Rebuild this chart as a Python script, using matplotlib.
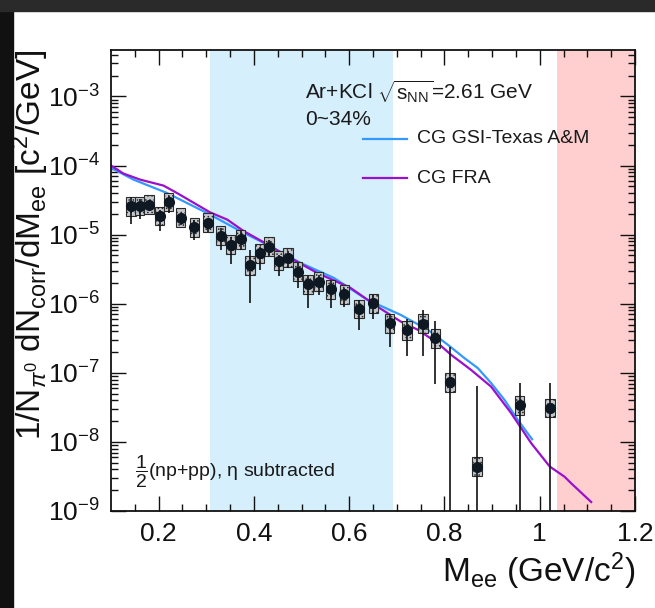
import numpy as np
import matplotlib
matplotlib.use('Agg')
from matplotlib import pyplot as plt
from matplotlib.patches import Rectangle

plt.rcParams['font.family'] = ['Liberation Sans', 'DejaVu Sans']
plt.rcParams['mathtext.fontset'] = 'custom'
plt.rcParams['mathtext.rm'] = 'Liberation Sans'
plt.rcParams['mathtext.it'] = 'Liberation Sans:italic'
plt.rcParams['mathtext.bf'] = 'Liberation Sans:bold'
plt.rcParams['hatch.color'] = '#4a4a4a'
plt.rcParams['hatch.linewidth'] = 0.6

# data points (Ar+KCl, pi0 normalised, NN reference subtracted)
m_ee = [0.142, 0.160, 0.180, 0.202, 0.221, 0.246, 0.275, 0.304, 0.330, 0.351,
        0.372, 0.392, 0.412, 0.432, 0.452, 0.472, 0.492, 0.513, 0.536, 0.561,
        0.590, 0.621, 0.651, 0.685, 0.721, 0.755, 0.781, 0.812, 0.868, 0.958, 1.022]
yield_ee = [2.56e-5, 2.6e-5, 2.7e-5, 1.86e-5, 2.97e-5, 1.75e-5, 1.28e-5, 1.49e-5, 9.6e-6, 7.1e-6,
            8.6e-6, 3.6e-6, 5.4e-6, 6.7e-6, 4.2e-6, 4.6e-6, 2.9e-6, 1.91e-6, 2.08e-6, 1.63e-6,
            1.36e-6, 8.4e-7, 1.02e-6, 5.2e-7, 4.1e-7, 5.1e-7, 3.16e-7, 7.3e-8, 4.4e-9, 3.4e-8, 3.1e-8]
stat_hi = [3.48e-5, 3.33e-5, 3.04e-5, 2.3e-5, 3.59e-5, 2.06e-5, 1.65e-5, 1.74e-5, 1.25e-5, 9.3e-6,
           1.12e-5, 6.07e-6, 6.64e-6, 8.5e-6, 5.13e-6, 5.73e-6, 3.89e-6, 2.49e-6, 2.63e-6, 2.1e-6,
           1.69e-6, 1.14e-6, 1.35e-6, 7.0e-7, 6.07e-7, 8.2e-7, 5.53e-7, 2.38e-7, 6.5e-8, 7.1e-8, 7.1e-8]
stat_lo = [1.43e-5, 1.69e-5, 2.3e-5, 1.12e-5, 2.06e-5, 1.40e-5, 8.5e-6, 1.08e-5, 6.07e-6, 3.8e-6,
           6.07e-6, 1.02e-6, 3.04e-6, 4.85e-6, 2.49e-6, 3.29e-6, 1.69e-6, 8.7e-7, 1.35e-6, 8.7e-7,
           9.1e-7, 4.2e-7, 6.0e-7, 2.4e-7, 1.76e-7, 1.76e-7, 6.93e-8, 1e-10, 1e-10, 1e-10, 1e-10]
sys_factor = 1.37

# coarse-graining model curves
gsi_x = [0.100, 0.147, 0.217, 0.308, 0.372, 0.428, 0.498, 0.568, 0.638, 0.708,
         0.765, 0.807, 0.842, 0.870, 0.898, 0.926, 0.954, 0.984]
gsi_y = [9.27e-5, 6.26e-5, 4.02e-5, 1.95e-5, 1.12e-5, 7.16e-6, 3.89e-6, 2.36e-6, 1.14e-6, 6.9e-7,
         4.2e-7, 2.55e-7, 1.63e-7, 1.17e-7, 7.1e-8, 4.06e-8, 2.08e-8, 1.09e-8]
fra_x = [0.100, 0.126, 0.161, 0.210, 0.238, 0.308, 0.344, 0.379, 0.421, 0.470,
         0.533, 0.603, 0.659, 0.708, 0.744, 0.786, 0.814, 0.856, 0.898, 0.940,
         0.982, 1.021, 1.052, 1.066, 1.108]
fra_y = [1.0e-4, 7.66e-5, 6.26e-5, 5.13e-5, 4.02e-5, 2.10e-5, 1.65e-5, 1.12e-5, 7.73e-6, 4.85e-6,
         2.79e-6, 1.69e-6, 9.1e-7, 5.53e-7, 4.2e-7, 2.69e-7, 1.82e-7, 1.10e-7, 6.3e-8, 2.61e-8,
         9.6e-9, 4.4e-9, 3.14e-9, 2.52e-9, 1.35e-9]

low_band = (0.307, 0.692)
high_band = (1.036, 1.2)

x = np.array(m_ee)
y = np.array(yield_ee)

fig = plt.figure(figsize=(6.55, 6.08), dpi=100)
fig.patches.append(Rectangle((0, 0), 13 / 655, 1, transform=fig.transFigure,
                             color='#111111', zorder=-10))
fig.patches.append(Rectangle((0, 1 - 11 / 608), 1, 11 / 608, transform=fig.transFigure,
                             color='#2a2a2a', zorder=-10))
ax = fig.add_axes([111 / 655, 1 - 511 / 608, 524 / 655, 461 / 608])

ax.axvspan(*low_band, color='#d5effc', lw=0, zorder=0)
ax.axvspan(*high_band, color='#ffcfcf', lw=0, zorder=0)

ax.plot(gsi_x, gsi_y, color='#3399ff', lw=1.6, zorder=2)
ax.plot(fra_x, fra_y, color='#9a10cc', lw=1.6, zorder=2)

ax.bar(x, y * sys_factor - y / sys_factor, bottom=y / sys_factor, width=0.02,
       facecolor='#c4c8cc', edgecolor='#2a2a2a', hatch='....', lw=0.8, zorder=3)
ax.vlines(x, stat_lo, stat_hi, color='#111111', lw=1.2, zorder=4)
ax.plot(x, y, 'o', color='#0d1822', ms=7, zorder=5)

ax.set_yscale('log')
ax.set_xlim(0.1, 1.2)
ax.set_ylim(1e-9, 4.7e-3)
ax.set_xticks([0.2, 0.4, 0.6, 0.8, 1.0, 1.2])
ax.set_xticklabels(['0.2', '0.4', '0.6', '0.8', '1', '1.2'])
ax.set_xticks(np.arange(0.15, 1.2, 0.05), minor=True)
ax.set_yticks([10.0 ** k for k in range(-9, -2)])
ax.set_yticklabels([r'$10^{%d}$' % k for k in range(-9, -2)])
ax.tick_params(which='both', direction='in', top=True, right=True, colors='#111111',
               labelcolor='#111111')
ax.tick_params(which='major', length=11, width=1.0, labelsize=19, pad=8)
ax.tick_params(which='minor', length=5, width=1.0)
for s in ax.spines.values():
    s.set_linewidth(1.3)
    s.set_color('#111111')

ax.set_xlabel(r'M$_{\rm ee}$ (GeV/c$^2$)', fontsize=24, loc='right', color='#111111')
ax.xaxis.set_label_coords(1.0, -0.085)
ax.set_ylabel(r'1/N$_{\pi^0}$ dN$_{\rm corr}$/dM$_{\rm ee}$ [c$^2$/GeV]', fontsize=24,
              loc='top', color='#111111')
ax.yaxis.set_label_coords(-0.115, 1.0)

ax.text(0.370, 0.909, r'Ar+KCl $\sqrt{\mathrm{s}_{\rm NN}}$=2.61 GeV', transform=ax.transAxes,
        fontsize=15, va='center', color='#1a1a1a')
ax.text(0.370, 0.850, '0~34%', transform=ax.transAxes, fontsize=15, va='center',
        color='#1a1a1a')
ax.plot([0.481, 0.565], [0.807, 0.807], transform=ax.transAxes, color='#3399ff', lw=1.6)
ax.text(0.584, 0.807, 'CG GSI-Texas A&M', transform=ax.transAxes, fontsize=14,
        va='center', color='#1a1a1a')
ax.plot([0.481, 0.565], [0.722, 0.722], transform=ax.transAxes, color='#9a10cc', lw=1.6)
ax.text(0.584, 0.722, 'CG FRA', transform=ax.transAxes, fontsize=14, va='center',
        color='#1a1a1a')
ax.text(0.046, 0.085, r'$\dfrac{1}{2}$(np+pp), η subtracted', transform=ax.transAxes,
        fontsize=14, va='center', color='#1a1a1a')

fig.savefig('out.png', dpi=100)
